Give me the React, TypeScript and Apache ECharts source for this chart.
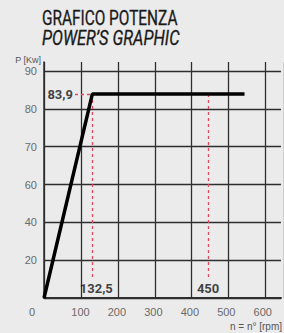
import React, { useEffect, useRef } from "react";
import * as echarts from "echarts";

const yTickValues = [0, 20, 40, 60, 70, 80, 90];
const xTickLabels = ["", "100", "200", "300", "400", "500", "600", ""];
const rpm = [0, 132.5, 550];
const power = [0, 83.9, 83.9];
const maxPowerRpm = 132.5;
const maxPower = 83.9;
const ratedRpm = 450;

// map a power value onto the evenly spaced (non-linear) tick scale
function toIdx(v: number): number {
  for (let i = 0; i < yTickValues.length - 1; i++) {
    const a = yTickValues[i], b = yTickValues[i + 1];
    if (v <= b) return i + (v - a) / (b - a);
  }
  return yTickValues.length - 1;
}

export default function App() {
  const ref = useRef<HTMLDivElement>(null);
  useEffect(() => {
    if (!ref.current) return;
    const chart = echarts.init(ref.current, null, { renderer: "svg" });
    const grid = "#2e2e2e";
    const red = "#e8465a";
    const labelFont = "Liberation Sans";
    chart.setOption({
      animation: false,
      backgroundColor: "#ebebeb",
      grid: [
        { left: 44, right: -5, top: 71, bottom: 35 },
        { left: 44, right: -5, top: 62, bottom: 35 },
      ],
      xAxis: [
        {
          gridIndex: 0, type: "value", min: 0, max: 650, interval: 100,
          axisLine: { show: true, lineStyle: { color: grid, width: 2 } },
          axisTick: { show: false },
          splitLine: { show: false },
          axisLabel: {
            color: "#6a6a6a", fontSize: 11, fontFamily: labelFont, margin: 8,
            formatter: (v: number) => xTickLabels[Math.round(v / 100)] ?? "",
          },
        },
        {
          gridIndex: 1, type: "value", min: 0, max: 650, interval: 100,
          axisLine: { show: false }, axisTick: { show: false }, axisLabel: { show: false },
          splitLine: { show: true, lineStyle: { color: grid, width: 1.3 } },
        },
      ],
      yAxis: [
        {
          gridIndex: 0, type: "value", min: 0, max: yTickValues.length - 1, interval: 1,
          axisLine: { show: false }, axisTick: { show: false },
          splitLine: { show: true, lineStyle: { color: grid, width: 1.3 } },
          axisLabel: {
            color: "#6a6a6a", fontSize: 11, fontFamily: labelFont, margin: 7,
            formatter: (v: number) => (v === 0 ? "" : String(yTickValues[Math.round(v)])),
          },
        },
        {
          gridIndex: 1, type: "value", min: 0, max: 1,
          axisLine: { show: true, lineStyle: { color: grid, width: 1.5 } },
          axisTick: { show: false }, axisLabel: { show: false }, splitLine: { show: false },
        },
      ],
      graphic: [
        { type: "text", x: 42, y: 8, scaleX: 0.77, style: { text: "GRAFICO POTENZA", font: "20px Roboto", lineHeight: 20, fill: "#1a1a1a", stroke: "#1a1a1a", lineWidth: 0.3, verticalAlign: "top" } },
        { type: "text", x: 42, y: 29, scaleX: 0.82, style: { text: "POWER\u2019S GRAPHIC", font: "italic 20px Roboto", lineHeight: 18, fill: "#1a1a1a", stroke: "#1a1a1a", lineWidth: 0.3, verticalAlign: "top" } },
        { type: "text", x: 41, y: 55, style: { text: "P [Kw]", font: "9px 'Liberation Sans'", lineHeight: 9, fill: "#555", align: "right", verticalAlign: "top" } },
        { type: "text", x: 29, y: 306, style: { text: "0", font: "11px 'Liberation Sans'", fill: "#6a6a6a", verticalAlign: "top" } },
        { type: "text", x: 282, y: 321, style: { text: "n = n\u00b0 [rpm]", font: "10px 'Liberation Sans'", fill: "#555", align: "right", verticalAlign: "top" } },
      ],
      series: [
        {
          type: "line", xAxisIndex: 0, yAxisIndex: 0, symbol: "none", z: 5,
          lineStyle: { color: "#000", width: 3.5 },
          data: rpm.map((x, i) => [x, toIdx(power[i])]),
          markLine: {
            silent: true, symbol: "none", label: { show: false },
            lineStyle: { color: red, type: [3, 3], width: 1.3 },
            data: [
              [{ coord: [85, toIdx(maxPower)] }, { coord: [maxPowerRpm, toIdx(maxPower)] }],
              [{ coord: [maxPowerRpm, toIdx(maxPower)] }, { coord: [maxPowerRpm, toIdx(10)] }],
              [{ coord: [ratedRpm, toIdx(maxPower)] }, { coord: [ratedRpm, toIdx(10)] }],
            ],
          },
        },
        {
          type: "scatter", xAxisIndex: 0, yAxisIndex: 0, symbolSize: 0, z: 6,
          label: { show: true, color: "#111", fontSize: 13, fontWeight: "bold", fontFamily: "Roboto", formatter: (p: any) => p.name },
          data: [
            { name: "83,9", value: [85, toIdx(maxPower)], label: { position: "left", distance: 2 } },
            { name: "132,5", value: [maxPowerRpm, 0], label: { position: "top", distance: 3, offset: [4, 0] } },
            { name: String(ratedRpm), value: [ratedRpm, 0], label: { position: "top", distance: 3 } },
          ],
        },
      ],
    });
    return () => chart.dispose();
  }, []);
  return <div ref={ref} style={{ position: "absolute", left: 0, top: 0, width: 284, height: 333 }} />;
}
